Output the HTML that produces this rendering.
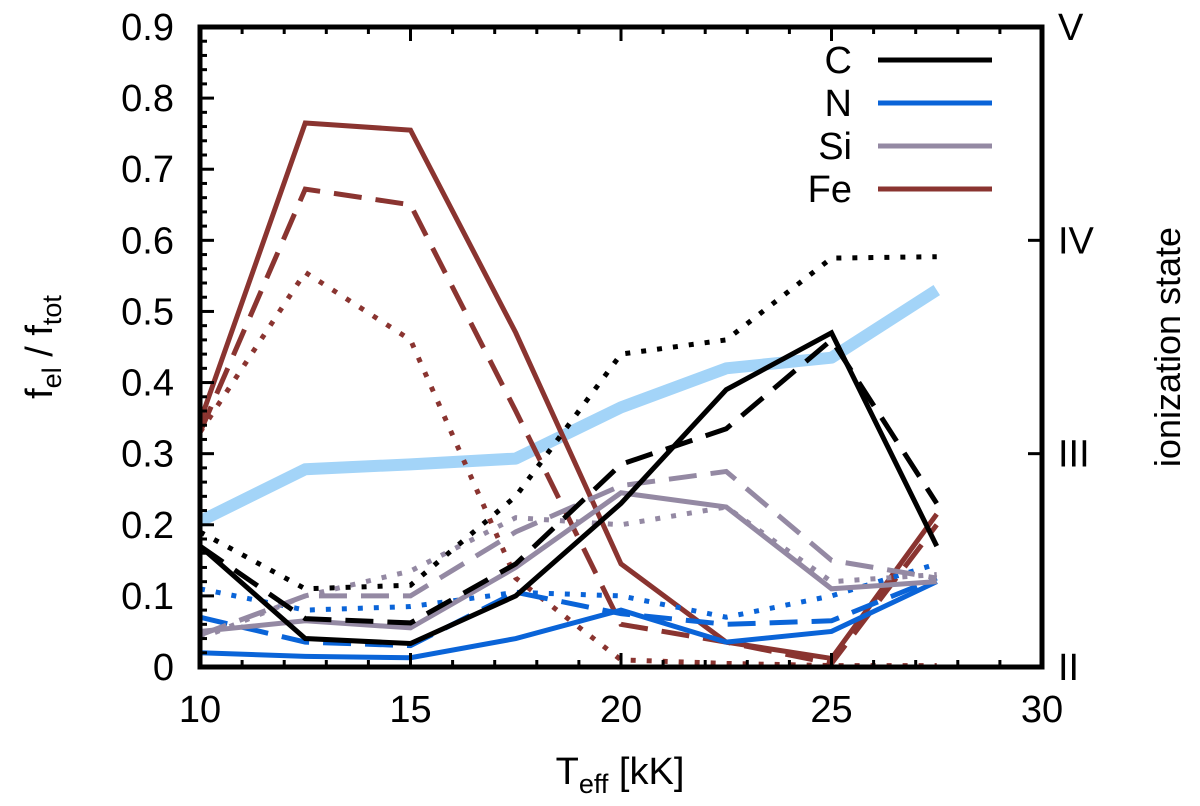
<!DOCTYPE html>
<html><head><meta charset="utf-8"><style>
body{margin:0;background:#fff}
svg{display:block;font-family:"Liberation Sans",Arial,sans-serif}
</style></head><body>
<svg id="chart" width="1200" height="806" viewBox="0 0 1200 806">
<g id="series"></g>
<g id="axes"></g>
<text x="620" y="784" font-size="38" text-anchor="middle">T<tspan font-size="27" dy="9">eff</tspan><tspan dy="-9"> [kK]</tspan></text>
<text transform="translate(52,347) rotate(-90)" font-size="38" text-anchor="middle">f<tspan font-size="27" dy="9">el</tspan><tspan dy="-9"> / f</tspan><tspan font-size="27" dy="9">tot</tspan></text>
<text transform="translate(1180,347) rotate(-90)" font-size="36" text-anchor="middle">ionization state</text>
</svg>
<script>
const temps=[10,12.5,15,17.5,20,22.5,25,27.5];
const cSolid=[0.17,0.04,0.033,0.10,0.23,0.39,0.47,0.17];
const cDash=[0.17,0.068,0.062,0.145,0.285,0.335,0.46,0.23];
const cDot=[0.19,0.11,0.115,0.24,0.44,0.46,0.575,0.577];
const nSolid=[0.02,0.015,0.013,0.04,0.08,0.035,0.05,0.12];
const nDash=[0.07,0.035,0.03,0.105,0.075,0.06,0.065,0.125];
const nDot=[0.11,0.08,0.085,0.105,0.1,0.07,0.1,0.145];
const siSolid=[0.05,0.065,0.055,0.14,0.245,0.225,0.11,0.12];
const siDash=[0.045,0.1,0.1,0.19,0.255,0.275,0.15,0.125];
const siDot=[0.04,0.1,0.135,0.21,0.2,0.225,0.12,0.13];
const feSolid=[0.345,0.765,0.755,0.47,0.145,0.035,0.012,0.215];
const feDash=[0.33,0.672,0.65,0.36,0.06,0.035,0.005,0.2];
const feDot=[0.33,0.555,0.46,0.125,0.01,0.005,0.002,0.002];
const ionState=[2.683,2.927,2.95,2.977,3.217,3.4,3.45,3.767];
const xTicks=[10,15,20,25,30];
const yTicks=[0,0.1,0.2,0.3,0.4,0.5,0.6,0.7,0.8,0.9];
const rTicks=[2,3,4,5];
const rLabels=["II","III","IV","V"];
const legendNames=["C","N","Si","Fe"];

const L=200,R=1042,T=27,B=667;
const X=v=>L+(v-10)/20*(R-L);
const Y=v=>B-v/0.9*(B-T);
const YR=s=>B-(s-2)/3*(B-T);
const NS='http://www.w3.org/2000/svg';
const sg=document.getElementById('series'), ag=document.getElementById('axes');
function mk(tag,attrs,parent){const e=document.createElementNS(NS,tag);for(const k in attrs)e.setAttribute(k,attrs[k]);parent.appendChild(e);return e;}

const colC='#000',colN='#0a64d8',colSi='#9489a3',colFe='#8a3430';
const dashes={solid:'',dash:'28,14',dot:'5,11'};
const defs=[
 [feDot,colFe,'dot','fe-dotted-line'],[feDash,colFe,'dash','fe-dashed-line'],[feSolid,colFe,'solid','fe-solid-line'],
 [nDot,colN,'dot','n-dotted-line'],[nDash,colN,'dash','n-dashed-line'],[nSolid,colN,'solid','n-solid-line'],
 [siDot,colSi,'dot','si-dotted-line'],[siDash,colSi,'dash','si-dashed-line'],[siSolid,colSi,'solid','si-solid-line'],
 [cDot,colC,'dot','c-dotted-line'],[cDash,colC,'dash','c-dashed-line'],[cSolid,colC,'solid','c-solid-line']];
{const pts=temps.map((t,i)=>X(t)+','+YR(ionState[i])).join(' ');
 const e=mk('polyline',{points:pts,fill:'none',stroke:'#a3d4f8','stroke-width':12,'stroke-linejoin':'round'},sg);
 
 }
defs.forEach(d=>{
 const pts=temps.map((t,i)=>X(t)+','+Y(d[0][i])).join(' ');
 const a={points:pts,fill:'none',stroke:d[1],'stroke-width':5,'stroke-linejoin':'miter'};
 if(dashes[d[2]])a['stroke-dasharray']=dashes[d[2]];
 const e=mk('polyline',a,sg);
 
 
});
{const f=mk('rect',{x:L,y:T,width:R-L,height:B-T,fill:'none',stroke:'#000','stroke-width':5},ag);
 
 }
for(let v=10;v<=30;v++){const maj=v%5===0;
 mk('line',{x1:X(v),x2:X(v),y1:B,y2:B-(maj?14:7),stroke:'#000','stroke-width':3},ag);
 mk('line',{x1:X(v),x2:X(v),y1:T,y2:T+(maj?14:7),stroke:'#000','stroke-width':3},ag);}
xTicks.forEach(v=>{const t=mk('text',{x:X(v),y:722,'font-size':38,'text-anchor':'middle'},ag);t.textContent=v;
 
 });
for(let i=0;i<=45;i++){const v=i*0.02;const maj=i%5===0;
 mk('line',{x1:L,x2:L+(maj?14:7),y1:Y(v),y2:Y(v),stroke:'#000','stroke-width':3},ag);}
yTicks.forEach(v=>{const t=mk('text',{x:174,y:Y(v)+13,'font-size':38,'text-anchor':'end'},ag);t.textContent=v===0?'0':v.toFixed(1);
 
 });
rTicks.forEach((s,i)=>{mk('line',{x1:R,x2:R-14,y1:YR(s),y2:YR(s),stroke:'#000','stroke-width':3},ag);
 const t=mk('text',{x:1058,y:YR(s)+13,'font-size':38},ag);t.textContent=rLabels[i];
 
 });
const legCols=[colC,colN,colSi,colFe];
legendNames.forEach((n,i)=>{const y=60+i*43;
 const t=mk('text',{x:852,y:y+13,'font-size':38,'text-anchor':'end'},ag);t.textContent=n;
 
 
 const l=mk('line',{x1:878,x2:992,y1:y,y2:y,stroke:legCols[i],'stroke-width':5},ag);
 
 });
</script>
</body></html>
